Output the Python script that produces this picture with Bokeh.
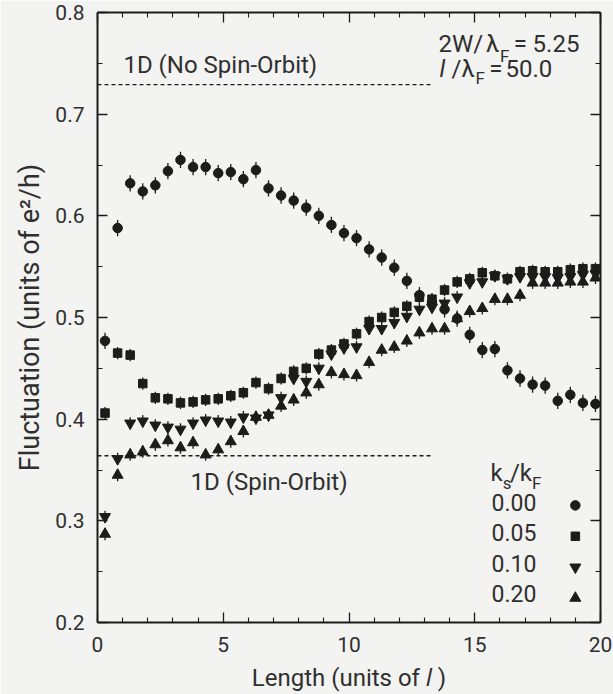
from bokeh.plotting import figure
from bokeh.models import Range1d, LinearAxis, FixedTicker, Label, PrintfTickFormatter
from bokeh.embed import file_html
from bokeh.resources import INLINE

# ---------------- data ----------------
length = [0.3, 0.8, 1.3, 1.8, 2.3, 2.8, 3.3, 3.8, 4.3, 4.8,
          5.3, 5.8, 6.3, 6.8, 7.3, 7.8, 8.3, 8.8, 9.3, 9.8,
          10.3, 10.8, 11.3, 11.8, 12.3, 12.8, 13.3, 13.8, 14.3, 14.8,
          15.3, 15.8, 16.3, 16.8, 17.3, 17.8, 18.3, 18.8, 19.3, 19.8]

fluct_000 = [0.477, 0.588, 0.632, 0.624, 0.630, 0.644, 0.655, 0.648, 0.648, 0.642,
             0.643, 0.636, 0.645, 0.627, 0.620, 0.615, 0.608, 0.600, 0.591, 0.583,
             0.578, 0.567, 0.559, 0.549, 0.536, 0.522, 0.515, 0.508, 0.499, 0.483,
             0.468, 0.469, 0.448, 0.440, 0.434, 0.433, 0.418, 0.424, 0.416, 0.415]

fluct_005 = [0.406, 0.465, 0.463, 0.435, 0.421, 0.420, 0.416, 0.417, 0.419, 0.420,
             0.423, 0.426, 0.436, 0.430, 0.440, 0.447, 0.450, 0.464, 0.468, 0.474,
             0.484, 0.496, 0.500, 0.505, 0.511, 0.520, 0.518, 0.527, 0.535, 0.538,
             0.544, 0.541, 0.538, 0.545, 0.546, 0.545, 0.545, 0.547, 0.548, 0.548]

fluct_010 = [0.304, 0.361, 0.396, 0.398, 0.394, 0.392, 0.390, 0.396, 0.399, 0.398,
             0.397, 0.402, 0.401, 0.404, 0.421, 0.440, 0.437, 0.450, 0.464, 0.470,
             0.471, 0.489, 0.489, 0.495, 0.501, 0.508, 0.510, 0.514, 0.520, 0.534,
             0.535, 0.541, 0.538, 0.540, 0.540, 0.540, 0.539, 0.540, 0.542, 0.543]

fluct_020 = [0.287, 0.345, 0.365, 0.368, 0.375, 0.379, 0.372, 0.377, 0.365, 0.370,
             0.378, 0.388, 0.402, 0.404, 0.413, 0.419, 0.426, 0.434, 0.446, 0.444,
             0.443, 0.456, 0.468, 0.471, 0.477, 0.485, 0.489, 0.489, 0.499, 0.506,
             0.509, 0.518, 0.518, 0.522, 0.534, 0.534, 0.534, 0.535, 0.535, 0.539]

# statistical error (half length of the error bars)
err_000 = 0.008
err_005 = 0.006
err_010 = 0.006
err_020 = 0.006

# 1D reference levels
level_no_so = 0.729
level_so = 0.364
level_x = [0.0, 13.3]

legend_labels = ["0.00", "0.05", "0.10", "0.20"]

x_major = [0, 5, 10, 15, 20]
x_minor = [1, 2, 3, 4, 6, 7, 8, 9, 11, 12, 13, 14, 16, 17, 18, 19]
y_major = [0.2, 0.3, 0.4, 0.5, 0.6, 0.7, 0.8]
y_minor = [0.25, 0.35, 0.45, 0.55, 0.65, 0.75]

# ---------------- style ----------------
BG = "#f3f3f1"
INK = "#1c1c1c"
TXT = "#2f2f2f"
FONT = "Roboto"

p = figure(width=613, height=694, output_backend="svg", toolbar_location=None,
           x_range=Range1d(0, 20), y_range=Range1d(0.2, 0.8),
           min_border_left=97, min_border_right=13, min_border_top=12,
           min_border_bottom=70, background_fill_color=BG, border_fill_color=BG)
p.xgrid.visible = False
p.ygrid.visible = False
p.outline_line_color = None
p.xaxis.visible = False
p.yaxis.visible = False


def style_axis(ax, ticker, labels):
    ax.ticker = ticker
    ax.axis_line_color = INK
    ax.axis_line_width = 2
    ax.major_tick_line_color = INK
    ax.minor_tick_line_color = INK
    ax.major_tick_line_width = 1.3
    ax.minor_tick_line_width = 1.1
    ax.major_tick_in = 10
    ax.major_tick_out = 0
    ax.minor_tick_in = 5
    ax.minor_tick_out = 0
    ax.major_label_text_font = FONT
    ax.major_label_text_font_size = "21px"
    ax.major_label_text_color = TXT if labels else None


xt = FixedTicker(ticks=x_major, minor_ticks=x_minor)
yt = FixedTicker(ticks=y_major, minor_ticks=y_minor)

bottom = LinearAxis(formatter=PrintfTickFormatter(format="%d"))
style_axis(bottom, xt, True)
bottom.major_label_standoff = 14
bottom.axis_label = "Length (units of \U0001D459 )"
bottom.axis_label_text_font = FONT
bottom.axis_label_text_font_size = "24px"
bottom.axis_label_text_font_style = "normal"
bottom.axis_label_text_color = TXT
bottom.axis_label_standoff = 9
p.add_layout(bottom, "below")

top = LinearAxis()
style_axis(top, xt, False)
p.add_layout(top, "above")

left = LinearAxis(formatter=PrintfTickFormatter(format="%.1f"))
style_axis(left, yt, True)
left.major_label_standoff = 13
left.axis_label = "Fluctuation (units of e²/h)"
left.axis_label_text_font = FONT
left.axis_label_text_font_size = "27px"
left.axis_label_text_font_style = "normal"
left.axis_label_text_color = TXT
left.axis_label_standoff = 6
p.add_layout(left, "left")

right = LinearAxis()
style_axis(right, yt, False)
p.add_layout(right, "right")

# ---------------- reference dashed lines ----------------
p.line(level_x, [level_no_so, level_no_so], line_color=INK, line_width=1.3, line_dash="4 3")
p.line(level_x, [level_so, level_so], line_color=INK, line_width=1.3, line_dash="4 3")

# ---------------- data series ----------------
series = [
    (fluct_000, err_000, "circle", 9.5),
    (fluct_005, err_005, "square", 8.5),
    (fluct_010, err_010, "inverted_triangle", 11),
    (fluct_020, err_020, "triangle", 11),
]
for ys, err, marker, size in series:
    p.segment(x0=length, y0=[v - err for v in ys], x1=length, y1=[v + err for v in ys],
              line_color=INK, line_width=1.3)
for ys, err, marker, size in series:
    p.scatter(length, ys, marker=marker, size=size, fill_color=INK, line_color=INK)


# ---------------- texts ----------------
def lab(x, y, text, size="24px", style="normal", align="left"):
    p.add_layout(Label(x=x, y=y, text=text, text_font=FONT, text_font_size=size,
                       text_font_style=style, text_color=TXT, text_align=align,
                       text_baseline="middle"))


lab(1.03, 0.7487, "1D (No Spin-Orbit)")
lab(3.70, 0.3380, "1D (Spin-Orbit)")

# 2W/lambda_F = 5.25
lab(13.56, 0.7692, "2W/")
lab(15.45, 0.7692, "λ")
lab(16.00, 0.7576, "F", size="17px")
lab(16.55, 0.7692, "=")
lab(17.30, 0.7692, "5.25")
# l/lambda_F = 50.0
lab(13.60, 0.7446, "l", style="italic")
lab(14.08, 0.7446, "/λ")
lab(15.03, 0.7353, "F", size="17px")
lab(15.58, 0.7446, "=")
lab(16.22, 0.7446, "50.0")

# legend
lab(15.63, 0.3467, "k")
lab(16.11, 0.3369, "s", size="17px")
lab(16.40, 0.3467, "/k")
lab(17.28, 0.3369, "F", size="17px")
row_y = [0.3182, 0.2881, 0.2579, 0.2285]
mark_y = [0.3152, 0.2848, 0.2544, 0.2240]
for (ys, err, marker, size), txt, ty, my in zip(series, legend_labels, row_y, mark_y):
    lab(15.67, ty, txt, size="23px")
    p.scatter([19.0], [my], marker=marker, size=size, fill_color=INK, line_color=INK)

open("out.html", "w").write(file_html(p, INLINE))
